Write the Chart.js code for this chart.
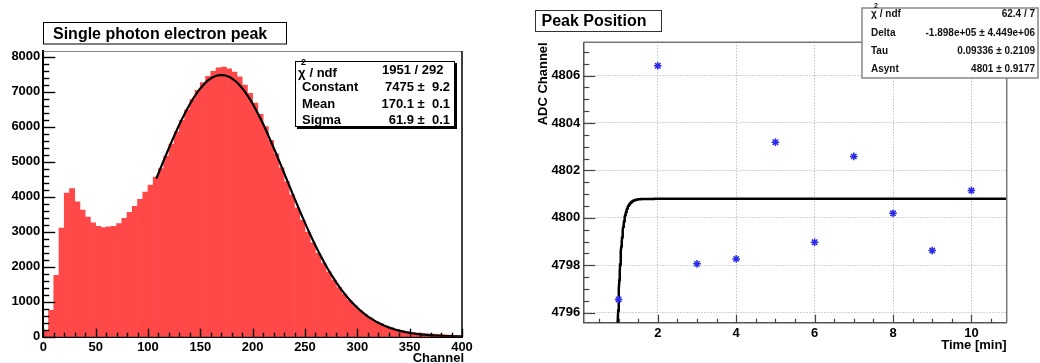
<!DOCTYPE html>
<html>
<head>
<meta charset="utf-8">
<script src="https://cdn.jsdelivr.net/npm/chart.js@4/dist/chart.umd.min.js"></script>
<style>
  html, body { margin: 0; padding: 0; background: #fff; }
  #wrap { position: relative; width: 1040px; height: 363px; overflow: hidden; background: #fff; }
  #specChart { position: absolute; left: 0; top: 0; }
  #peakChart { position: absolute; left: 500px; top: 0; filter: blur(0.5px); }
</style>
</head>
<body>
<div id="wrap">
  <canvas id="specChart" width="480" height="363"></canvas>
  <canvas id="peakChart" width="540" height="363"></canvas>
</div>
<script>
// ---- single photo-electron spectrum (5-channel bins, 0..400) ----
const BIN_START = 0;
const BIN_WIDTH = 5;
const speCounts = [
  150, 750, 1750, 3100, 4100, 4230, 3850, 3620, 3420, 3250,
  3150, 3120, 3140, 3150, 3230, 3380, 3550, 3720, 3920, 4130,
  4330, 4560, 4800, 5160, 5500, 5850, 6180, 6480, 6770, 7040,
  7260, 7440, 7580, 7680, 7700, 7650, 7560, 7420, 7190, 6950,
  6670, 6350, 6000, 5610, 5220, 4820, 4430, 4050, 3680, 3330,
  2990, 2680, 2380, 2100, 1850, 1620, 1400, 1210, 1040, 890,
  750, 630, 530, 440, 370, 305, 250, 205, 170, 140,
  120, 105, 95, 85, 75, 65, 55, 45, 35, 25
];
const speXTicks = [0, 50, 100, 150, 200, 250, 300, 350, 400];
const speYTicks = [0, 1000, 2000, 3000, 4000, 5000, 6000, 7000, 8000];

// gaussian fit result
const gausConstant = 7475;
const gausMean = 170.1;
const gausSigma = 61.9;
const gausRange = [108, 400];
const speStats = [
  ['Constant', '7475 \u00b1  9.2'],
  ['Mean', '170.1 \u00b1  0.1'],
  ['Sigma', '61.9 \u00b1  0.1']
];

// ---- peak position vs time ----
const timeMin = [1, 2, 3, 4, 5, 6, 7, 8, 9, 10];
const peakAdc = [4796.56, 4806.41, 4798.06, 4798.27, 4803.19, 4798.97, 4802.59, 4800.19, 4798.62, 4801.15];
const timeTicks = [2, 4, 6, 8, 10];
const adcTicks = [4796, 4798, 4800, 4802, 4804, 4806];

// exponential fit: Asynt + Delta * exp(-t / Tau)
const fitDelta = -1.898e5;
const fitTau = 0.09336;
const fitAsynt = 4800.8;
const peakStats = [
  ['Delta', '-1.898e+05 \u00b1 4.449e+06'],
  ['Tau', '0.09336 \u00b1 0.2109'],
  ['Asynt', '4801 \u00b1 0.9177']
];

const FONT = '"Liberation Sans", Arial, Helvetica, sans-serif';
const HIST_RED = 'rgb(255, 72, 72)';
const STAR_BLUE = '#2b2bea';

const histPoints = speCounts.map((c, i) => ({ x: BIN_START + (i + 0.5) * BIN_WIDTH, y: c }));

const gausPoints = [];
for (let x = gausRange[0]; x <= gausRange[1]; x += 2) {
  const z = (x - gausMean) / gausSigma;
  gausPoints.push({ x: x, y: gausConstant * Math.exp(-0.5 * z * z) });
}

const peakPoints = timeMin.map((t, i) => ({ x: t, y: peakAdc[i] }));

const fitPoints = [];
for (let t = 0.9; t <= 2.0; t += 0.01) {
  fitPoints.push({ x: t, y: fitAsynt + fitDelta * Math.exp(-t / fitTau) });
}
fitPoints.push({ x: 10.9, y: fitAsynt + fitDelta * Math.exp(-10.9 / fitTau) });

function line(ctx, x1, y1, x2, y2) {
  ctx.beginPath();
  ctx.moveTo(x1, y1);
  ctx.lineTo(x2, y2);
  ctx.stroke();
}

// ticks pointing into the frame, ROOT style
function drawInnerTicks(chart, xStep, xMajor, yStep, yMajor, lens) {
  const { ctx, chartArea: a, scales: { x, y } } = chart;
  for (let v = Math.ceil(y.min / yStep) * yStep; v <= y.max + 1e-9; v += yStep) {
    const py = Math.round(y.getPixelForValue(v)) + 0.5;
    const major = Math.abs(v / yMajor - Math.round(v / yMajor)) < 1e-6;
    line(ctx, a.left, py, a.left + (major ? lens[0] : lens[1]), py);
  }
  for (let v = Math.ceil(x.min / xStep) * xStep; v <= x.max + 1e-9; v += xStep) {
    const px = Math.round(x.getPixelForValue(v)) + 0.5;
    const major = Math.abs(v / xMajor - Math.round(v / xMajor)) < 1e-6;
    line(ctx, px, a.bottom, px, a.bottom - (major ? lens[2] : lens[3]));
  }
}

function drawChi2(ctx, x, base, size) {
  ctx.font = 'bold ' + size + 'px ' + FONT;
  ctx.textAlign = 'left';
  ctx.fillText('\u03c7', x, base);
  ctx.font = 'bold ' + Math.round(size * 0.7) + 'px ' + FONT;
  ctx.fillText('2', x + 3, base - size * 0.95);
  ctx.font = 'bold ' + size + 'px ' + FONT;
  ctx.fillText(' / ndf', x + size * 0.6, base);
}

const specDecor = {
  id: 'specDecor',
  afterDraw(chart) {
    const { ctx, chartArea: a } = chart;
    ctx.save();
    ctx.lineWidth = 1;
    ctx.strokeStyle = '#888';
    line(ctx, a.left, a.top + 0.5, a.right, a.top + 0.5);
    ctx.strokeStyle = '#000';
    ctx.lineWidth = 1.5;
    line(ctx, a.right, a.top, a.right, a.bottom);

    ctx.lineWidth = 1.4;
    drawInnerTicks(chart, 10, 50, 200, 1000, [12, 6, 8, 4]);

    // title box
    ctx.fillStyle = '#fff';
    ctx.fillRect(43.5, 22.5, 243, 21.5);
    ctx.lineWidth = 1;
    ctx.strokeRect(43.5, 22.5, 243, 21.5);
    ctx.fillStyle = '#000';
    ctx.font = 'bold 16px ' + FONT;
    ctx.textBaseline = 'alphabetic';
    ctx.textAlign = 'left';
    ctx.fillText('Single photon electron peak', 53, 39);

    // fit statistics box
    ctx.fillStyle = '#000';
    ctx.fillRect(297, 63, 160, 66);
    ctx.fillStyle = '#fff';
    ctx.fillRect(295, 61, 160, 66);
    ctx.strokeStyle = '#000';
    ctx.strokeRect(295.5, 61.5, 159, 65);
    ctx.fillStyle = '#000';
    drawChi2(ctx, 298, 77, 13);
    ctx.font = 'bold 13px ' + FONT;
    ctx.textAlign = 'left';
    ctx.fillText('1951 / 292', 382, 74);
    const bases = [91, 107.5, 124];
    speStats.forEach((row, i) => {
      ctx.textAlign = 'left';
      ctx.fillText(row[0], 302, bases[i]);
      ctx.textAlign = 'right';
      ctx.fillText(row[1], 450, bases[i]);
    });

    // axis title
    ctx.textAlign = 'right';
    ctx.font = 'bold 13px ' + FONT;
    ctx.fillText('Channel', 464, 362);
    ctx.restore();
  }
};

const peakDecor = {
  id: 'peakDecor',
  afterDraw(chart) {
    const { ctx, chartArea: a } = chart;
    ctx.save();
    ctx.strokeStyle = '#777';
    ctx.lineWidth = 1.5;
    line(ctx, a.left, a.top, a.right, a.top);
    line(ctx, a.right, a.top, a.right, a.bottom);

    ctx.strokeStyle = '#444';
    ctx.lineWidth = 1.2;
    drawInnerTicks(chart, 0.5, 2, 0.5, 2, [12, 6, 8, 4]);

    // title box
    ctx.fillStyle = '#fff';
    ctx.fillRect(35, 10, 127, 22);
    ctx.strokeStyle = '#333';
    ctx.lineWidth = 1;
    ctx.strokeRect(35.5, 10.5, 126, 21);
    ctx.fillStyle = '#000';
    ctx.font = 'bold 16px ' + FONT;
    ctx.textAlign = 'left';
    ctx.fillText('Peak Position', 41.5, 26);

    // fit statistics box
    ctx.fillStyle = '#fff';
    ctx.fillRect(362, 8, 176, 70);
    ctx.strokeStyle = '#888';
    ctx.lineWidth = 1.5;
    ctx.strokeRect(362, 8, 176, 70);
    ctx.fillStyle = '#111';
    drawChi2(ctx, 371, 17, 10);
    ctx.font = 'bold 10px ' + FONT;
    ctx.textAlign = 'right';
    ctx.fillText('62.4 / 7', 535, 17);
    const bases = [36, 54, 72];
    peakStats.forEach((row, i) => {
      ctx.textAlign = 'left';
      ctx.fillText(row[0], 371, bases[i]);
      ctx.textAlign = 'right';
      ctx.fillText(row[1], 535, bases[i]);
    });

    // axis titles
    ctx.fillStyle = '#000';
    ctx.font = 'bold 13px ' + FONT;
    ctx.textAlign = 'right';
    ctx.fillText('Time [min]', a.right, 349);
    ctx.translate(43, a.top);
    ctx.rotate(-Math.PI / 2);
    ctx.textBaseline = 'middle';
    ctx.fillText('ADC Channel', 0, 0);
    ctx.restore();
  }
};

const tickFont = { family: FONT, weight: 'bold', size: 13 };
const plainLabel = v => String(v);

new Chart(document.getElementById('specChart'), {
  type: 'bar',
  data: {
    datasets: [
      {
        type: 'line',
        data: gausPoints,
        borderColor: '#000',
        borderWidth: 2.2,
        pointRadius: 0,
        tension: 0,
        order: 0
      },
      {
        type: 'bar',
        data: histPoints,
        backgroundColor: HIST_RED,
        borderWidth: 0,
        barPercentage: 1,
        categoryPercentage: 1,
        grouped: false,
        order: 1
      }
    ]
  },
  options: {
    responsive: false,
    animation: false,
    devicePixelRatio: 1,
    layout: { padding: { top: 51, right: 18, left: 0, bottom: 0 } },
    plugins: { legend: { display: false }, tooltip: { enabled: false } },
    scales: {
      x: {
        type: 'linear', min: 0, max: 400, offset: false,
        afterBuildTicks: s => { s.ticks = speXTicks.map(v => ({ value: v })); },
        afterFit: s => { s.height = 26.3; },
        grid: { display: false, drawTicks: false },
        border: { display: true, color: '#000', width: 2 },
        ticks: { font: tickFont, color: '#000', padding: 3, maxRotation: 0, autoSkip: false, callback: plainLabel }
      },
      y: {
        type: 'linear', min: 0, max: 8160,
        afterBuildTicks: s => { s.ticks = speYTicks.map(v => ({ value: v })); },
        afterFit: s => { s.width = 43.3; },
        grid: { display: false, drawTicks: false },
        border: { display: true, color: '#000', width: 2 },
        ticks: { font: tickFont, color: '#000', padding: 3, autoSkip: false, callback: plainLabel }
      }
    }
  },
  plugins: [specDecor]
});

new Chart(document.getElementById('peakChart'), {
  type: 'scatter',
  data: {
    datasets: [
      {
        data: fitPoints,
        showLine: true,
        borderColor: '#000',
        borderWidth: 2.5,
        pointRadius: 0,
        tension: 0,
        order: 1
      },
      {
        data: peakPoints,
        pointStyle: 'star',
        pointRadius: 3.8,
        pointBorderColor: STAR_BLUE,
        pointBackgroundColor: STAR_BLUE,
        pointBorderWidth: 1.5,
        showLine: false,
        order: 0
      }
    ]
  },
  options: {
    responsive: false,
    animation: false,
    devicePixelRatio: 1,
    layout: { padding: { top: 42.3, right: 33.3, left: 0, bottom: 0 } },
    plugins: { legend: { display: false }, tooltip: { enabled: false } },
    scales: {
      x: {
        type: 'linear', min: 0.1, max: 10.9,
        afterBuildTicks: s => { s.ticks = timeTicks.map(v => ({ value: v })); },
        afterFit: s => { s.height = 40.3; },
        grid: { color: '#a8a8a8', lineWidth: 1, drawTicks: false },
        border: { display: true, color: '#555', width: 1.5, dash: [1, 2] },
        ticks: { font: tickFont, color: '#000', padding: 3, maxRotation: 0, autoSkip: false, callback: plainLabel }
      },
      y: {
        type: 'linear', min: 4795.58, max: 4807.40,
        afterBuildTicks: s => { s.ticks = adcTicks.map(v => ({ value: v })); },
        afterFit: s => { s.width = 83.3; },
        grid: { color: '#a8a8a8', lineWidth: 1, drawTicks: false },
        border: { display: true, color: '#555', width: 1.5, dash: [1, 2] },
        ticks: { font: tickFont, color: '#000', padding: 3, autoSkip: false, callback: plainLabel }
      }
    }
  },
  plugins: [peakDecor]
});
</script>
</body>
</html>
